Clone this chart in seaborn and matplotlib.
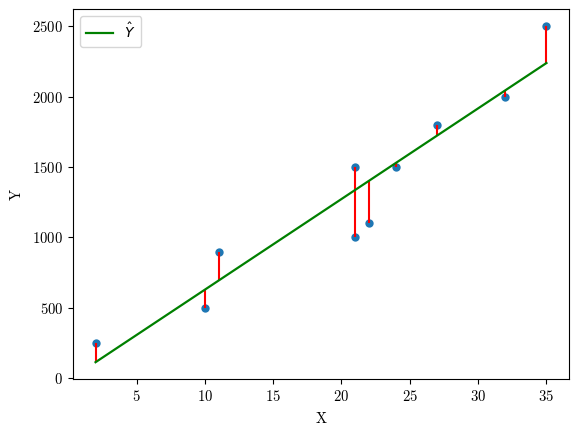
import numpy as np
import pandas as pd
import matplotlib
matplotlib.use("Agg")
import matplotlib.pyplot as plt
import seaborn as sns

plt.rcParams['font.family'] = ['cmr10', 'DejaVu Sans']
plt.rcParams['axes.formatter.use_mathtext'] = True
plt.rcParams['xtick.labelsize'] = 10.6
plt.rcParams['ytick.labelsize'] = 10.6
plt.rcParams['axes.labelsize'] = 10.6

# data
x_vals = [2, 10, 11, 21, 21, 22, 24, 27, 32, 35]
y_vals = [250, 500, 900, 1000, 1500, 1100, 1500, 1800, 2000, 2500]

df = pd.DataFrame({'X': x_vals, 'Y': y_vals})

# least squares fit
slope, intercept = np.polyfit(df['X'], df['Y'], 1)
df['Y_hat'] = intercept + slope * df['X']

fig = plt.figure(figsize=(5.79, 4.36), dpi=100)
ax = fig.add_axes([73 / 579, 57 / 436, 496 / 579, 369.6 / 436])

sns.scatterplot(data=df, x='X', y='Y', ax=ax, color='#1f77b4', s=36, linewidth=0)
ax.vlines(df['X'], df['Y_hat'], df['Y'], color='red', linewidth=1.5)
sns.lineplot(x=df['X'], y=df['Y_hat'], ax=ax, color='green', label=r'$\hat{Y}$',
             estimator=None, sort=True, linewidth=1.6)

ax.set_xlabel('X', labelpad=6)
ax.set_ylabel('Y', labelpad=6)
ax.legend(loc='upper left', fontsize=10)

fig.savefig('out.png', dpi=100)
